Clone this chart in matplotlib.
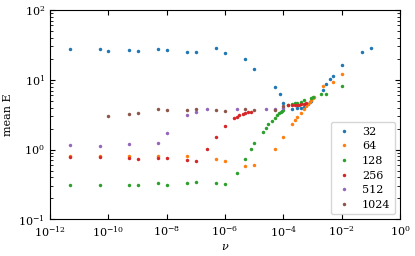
import matplotlib
matplotlib.use("Agg")
import matplotlib.pyplot as plt
from matplotlib.ticker import LogLocator, NullLocator

plt.rcParams['font.family'] = 'serif'
plt.rcParams['font.serif'] = ['DejaVu Serif']
plt.rcParams['mathtext.fontset'] = 'dejavuserif'

labels = ['32', '64', '128', '256', '512', '1024']

x32 = [5e-12, 5e-11, 1e-10, 5e-10, 1e-9, 5e-9, 1e-8, 5e-8, 1e-7, 5e-7, 1e-6, 5e-6, 1e-5,
       5e-5, 7.5e-5, 1e-4, 2e-4, 3e-4, 4e-4, 5e-4, 7e-4, 8e-4, 9e-4, 2.2e-3, 3e-3, 4e-3,
       5e-3, 1e-2, 5e-2, 1e-1]
y32 = [27.4, 27.6, 25.9, 27.1, 25.6, 27.6, 26.5, 25.3, 25.0, 28.6, 24.5, 19.7, 14.1,
       7.9, 6.3, 4.6, 3.8, 3.9, 3.95, 4.1, 4.5, 4.8, 5.0, 7.1, 8.6, 10.1,
       11.3, 16.1, 25.4, 28.6]

x64 = [5e-12, 5e-11, 5e-10, 5e-9, 5e-8, 5e-7, 1e-6, 5e-6, 1e-5, 5e-5, 1e-4, 2e-4, 2.5e-4,
       3e-4, 4e-4, 5e-4, 6e-4, 7e-4, 8e-4, 9e-4, 1e-3, 1.1e-3, 2.3e-3, 5e-3, 1e-2]
y64 = [0.80, 0.80, 0.80, 0.80, 0.80, 0.72, 0.68, 0.58, 0.60, 1.03, 1.5, 2.3, 2.63,
       2.97, 3.39, 3.8, 4.17, 4.56, 4.87, 5.1, 5.4, 5.7, 8.1, 9.3, 12.0]

x128 = [5e-12, 5e-11, 5e-10, 1e-9, 5e-9, 1e-8, 5e-8, 1e-7, 5e-7, 1e-6, 2.5e-6, 5e-6, 7.5e-6,
        1e-5, 2e-5, 2.5e-5, 3e-5, 4e-5, 5e-5, 6e-5, 7e-5, 8e-5, 9e-5, 1e-4, 1.5e-4, 2e-4,
        2.5e-4, 3e-4, 4e-4, 5e-4, 9e-4, 1e-3, 2e-3, 3e-3, 1e-2]
y128 = [0.31, 0.31, 0.315, 0.315, 0.33, 0.315, 0.326, 0.34, 0.336, 0.32, 0.46, 0.74, 1.03,
        1.23, 1.81, 2.05, 2.3, 2.6, 2.87, 3.16, 3.3, 3.4, 3.57, 3.74, 4.4, 4.5,
        4.65, 4.7, 4.8, 5.1, 5.4, 5.7, 6.3, 6.3, 8.1]

x256 = [5e-12, 5e-11, 5e-10, 1e-9, 5e-9, 1e-8, 5e-8, 1e-7, 2.5e-7, 5e-7, 1e-6, 2e-6, 2.5e-6,
        3e-6, 4e-6, 5e-6, 6e-6, 7.5e-6, 1.5e-4, 2e-4, 2.5e-4, 3e-4, 3.5e-4, 4e-4, 5e-4, 6e-4]
y256 = [0.78, 0.78, 0.76, 0.72, 0.75, 0.76, 0.70, 0.68, 1.03, 1.53, 2.2, 2.8, 2.97,
        3.13, 3.24, 3.35, 3.46, 3.42, 4.3, 4.35, 4.4, 4.4, 4.4, 4.45, 4.5, 4.6]

x512 = [5e-12, 5e-11, 5e-10, 5e-9, 1e-8, 5e-8, 1e-7, 2.5e-7, 2.5e-6, 2.5e-5, 5e-5, 1e-4]
y512 = [1.15, 1.13, 1.19, 1.23, 1.73, 3.1, 3.42, 3.78, 3.78, 3.78, 3.87, 4.0]

x1024 = [1e-10, 5e-10, 1e-9, 5e-9, 1e-8, 5e-8, 1e-7, 5e-7, 1e-6, 5e-6, 1e-5, 5e-5, 1e-4]
y1024 = [3.0, 3.2, 3.31, 3.87, 3.69, 3.73, 3.8, 3.69, 3.62, 3.78, 3.69, 3.7, 4.2]

series = [(x32, y32), (x64, y64), (x128, y128), (x256, y256), (x512, y512), (x1024, y1024)]

fig = plt.figure(figsize=(4.15, 2.56), dpi=100)
ax = fig.add_axes([0.1205, 0.1434, 0.8434, 0.8176])

for (xs, ys), lab in zip(series, labels):
    ax.plot(xs, ys, 'o', ms=2.5, mew=0, ls='none', label=lab)

ax.set_xscale('log')
ax.set_yscale('log')
ax.set_xlim(1e-12, 1)
ax.set_ylim(0.1, 100)
ax.xaxis.set_major_locator(LogLocator(base=10, numticks=7))
ax.xaxis.set_minor_locator(NullLocator())
ax.tick_params(which='both', direction='in', top=True, right=True, labelsize=8)
ax.set_xlabel(r'$\nu$', fontsize=8, labelpad=2)
ax.set_ylabel('mean E', fontsize=8)
ax.legend(loc='lower right', fontsize=8, numpoints=1, handlelength=1.6,
          labelspacing=0.42, borderaxespad=0.45)

fig.savefig('out.png', dpi=100)
